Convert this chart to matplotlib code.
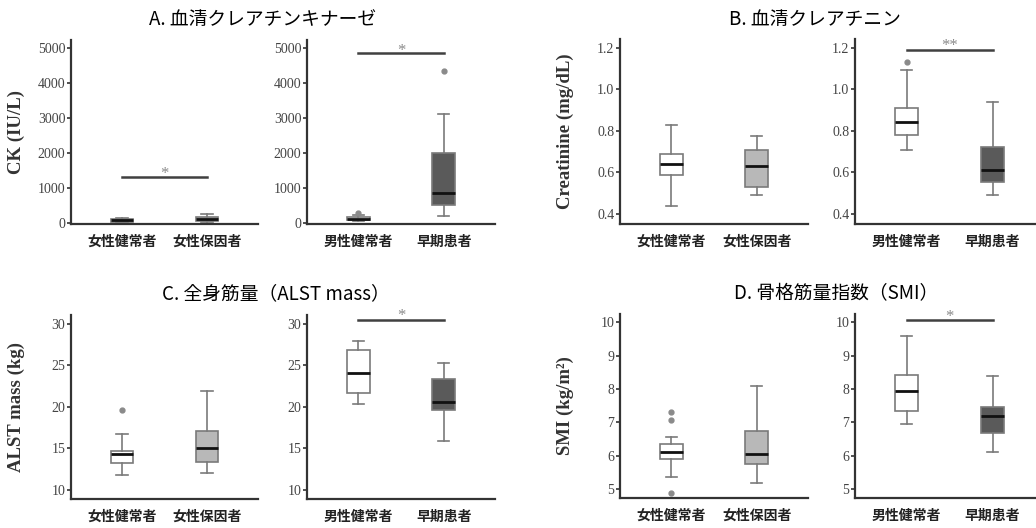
import matplotlib
matplotlib.use("Agg")
import matplotlib.pyplot as plt

plt.rcParams['font.family'] = ['Noto Sans CJK JP', 'DejaVu Sans']

# 群名
female_groups = ["女性健常者", "女性保因者"]
male_groups = ["男性健常者", "早期患者"]

# A. CK (IU/L)
ck_f_whislo = [20, 40]
ck_f_q1 = [40, 60]
ck_f_med = [75, 120]
ck_f_q3 = [110, 170]
ck_f_whishi = [140, 270]
ck_f_fliers = [[], []]
ck_m_whislo = [60, 200]
ck_m_q1 = [80, 514]
ck_m_med = [120, 849]
ck_m_q3 = [160, 1990]
ck_m_whishi = [220, 3105]
ck_m_fliers = [[290], [4350]]

# B. Creatinine (mg/dL)
cr_f_whislo = [0.439, 0.490]
cr_f_q1 = [0.589, 0.529]
cr_f_med = [0.639, 0.631]
cr_f_q3 = [0.689, 0.707]
cr_f_whishi = [0.829, 0.773]
cr_f_fliers = [[], []]
cr_m_whislo = [0.708, 0.490]
cr_m_q1 = [0.779, 0.554]
cr_m_med = [0.845, 0.611]
cr_m_q3 = [0.909, 0.724]
cr_m_whishi = [1.091, 0.941]
cr_m_fliers = [[1.131], []]

# C. ALST mass (kg)
al_f_whislo = [11.8, 12.1]
al_f_q1 = [13.24, 13.32]
al_f_med = [14.31, 15.04]
al_f_q3 = [14.71, 17.04]
al_f_whishi = [16.72, 21.9]
al_f_fliers = [[19.6], []]
al_m_whislo = [20.32, 15.84]
al_m_q1 = [21.67, 19.6]
al_m_med = [24.12, 20.52]
al_m_q3 = [26.88, 23.32]
al_m_whishi = [27.91, 25.32]
al_m_fliers = [[], []]

# D. SMI (kg/m2)
smi_f_whislo = [5.35, 5.18]
smi_f_q1 = [5.89, 5.75]
smi_f_med = [6.12, 6.05]
smi_f_q3 = [6.34, 6.74]
smi_f_whishi = [6.57, 8.1]
smi_f_fliers = [[7.32, 7.07, 4.88], []]
smi_m_whislo = [6.94, 6.12]
smi_m_q1 = [7.34, 6.67]
smi_m_med = [7.93, 7.18]
smi_m_q3 = [8.43, 7.47]
smi_m_whishi = [9.6, 8.4]
smi_m_fliers = [[], []]

W, H = 1036, 528
fig = plt.figure(figsize=(W / 100, H / 100), dpi=100)
fig.patch.set_facecolor('white')


def make_stats(whislo, q1, med, q3, whishi, fliers):
    return [dict(whislo=whislo[i], q1=q1[i], med=med[i], q3=q3[i],
                 whishi=whishi[i], fliers=fliers[i]) for i in range(len(med))]


def px_axes(left, right, top, bottom):
    return fig.add_axes([left / W, 1 - bottom / H, (right - left) / W, (bottom - top) / H])


def draw_panel(rect, stats, labels, fills, xlim, ylim, yticks, ytl, ylabel=None, sig=None):
    ax = px_axes(*rect)
    bp = ax.bxp(stats, positions=[1, 2], widths=0.27, patch_artist=True,
                capwidths=0.13,
                boxprops=dict(edgecolor='#7a7a7a', linewidth=1.2),
                whiskerprops=dict(color='#7a7a7a', linewidth=1.2),
                capprops=dict(color='#7a7a7a', linewidth=1.2),
                medianprops=dict(color='#111111', linewidth=2),
                flierprops=dict(marker='o', markersize=3.5, markerfacecolor='#8a8a8a',
                                markeredgecolor='#8a8a8a'))
    for patch, c in zip(bp['boxes'], fills):
        patch.set_facecolor(c)
    ax.set_xlim(*xlim)
    ax.set_ylim(*ylim)
    ax.set_yticks(yticks)
    ax.set_yticklabels(ytl, family='Liberation Serif', fontsize=10, color='#444444')
    ax.set_xticks([1, 2])
    ax.set_xticklabels(labels, fontsize=10, fontweight='bold', color='#222222')
    ax.tick_params(axis='x', length=0, pad=8)
    ax.tick_params(axis='y', length=3, width=1.2, color='#333333', pad=1)
    for s in ['top', 'right']:
        ax.spines[s].set_visible(False)
    for s in ['left', 'bottom']:
        ax.spines[s].set_linewidth(1.6)
        ax.spines[s].set_color('#333333')
    if ylabel:
        ax.set_ylabel(ylabel, family='Liberation Serif', fontweight='bold',
                      fontsize=13.5, color='#333333')
        ax.yaxis.set_label_coords(-46 / (rect[1] - rect[0]), 0.5)
    if sig:
        ybar, ystar, txt = sig
        ax.plot([1, 2], [ybar, ybar], color='#404040', linewidth=1.8, clip_on=False)
        ax.text(1.5, ystar, txt, ha='center', va='center', fontsize=12,
                family='Liberation Serif', color='#8a8a8a', clip_on=False)
    return ax


fills = ['white', '#b8b8b8']
fills_m = ['white', '#5a5a5a']

# A
ck_ticks = [0, 1000, 2000, 3000, 4000, 5000]
ck_tl = [str(t) for t in ck_ticks]
draw_panel((71, 258, 40, 224), make_stats(ck_f_whislo, ck_f_q1, ck_f_med, ck_f_q3, ck_f_whishi, ck_f_fliers),
           female_groups, fills, (0.4, 2.6), (-29, 5229), ck_ticks, ck_tl, 'CK (IU/L)', (1323, 1390, '*'))
draw_panel((307, 495, 40, 224), make_stats(ck_m_whislo, ck_m_q1, ck_m_med, ck_m_q3, ck_m_whishi, ck_m_fliers),
           male_groups, fills_m, (0.4, 2.6), (-29, 5229), ck_ticks, ck_tl, None, (4849, 4910, '*'))

# B
cr_ticks = [0.4, 0.6, 0.8, 1.0, 1.2]
cr_tl = ['%.1f' % t for t in cr_ticks]
draw_panel((620, 808, 39, 224), make_stats(cr_f_whislo, cr_f_q1, cr_f_med, cr_f_q3, cr_f_whishi, cr_f_fliers),
           female_groups, fills, (0.4, 2.6), (0.352, 1.242), cr_ticks, cr_tl, 'Creatinine (mg/dL)')
draw_panel((855, 1036, 39, 224), make_stats(cr_m_whislo, cr_m_q1, cr_m_med, cr_m_q3, cr_m_whishi, cr_m_fliers),
           male_groups, fills_m, (0.4, 2.505), (0.352, 1.242), cr_ticks, cr_tl, None, (1.187, 1.206, '**'))

# C
al_ticks = [10, 15, 20, 25, 30]
al_tl = [str(t) for t in al_ticks]
draw_panel((71, 258, 315, 499), make_stats(al_f_whislo, al_f_q1, al_f_med, al_f_q3, al_f_whishi, al_f_fliers),
           female_groups, fills, (0.4, 2.6), (8.92, 31.03), al_ticks, al_tl, 'ALST mass (kg)')
draw_panel((307, 495, 315, 499), make_stats(al_m_whislo, al_m_q1, al_m_med, al_m_q3, al_m_whishi, al_m_fliers),
           male_groups, fills_m, (0.4, 2.6), (8.92, 31.03), al_ticks, al_tl, None, (30.44, 30.85, '*'))

# D
smi_ticks = [5, 6, 7, 8, 9, 10]
smi_tl = [str(t) for t in smi_ticks]
draw_panel((620, 808, 314, 498), make_stats(smi_f_whislo, smi_f_q1, smi_f_med, smi_f_q3, smi_f_whishi, smi_f_fliers),
           female_groups, fills, (0.4, 2.6), (4.73, 10.25), smi_ticks, smi_tl, 'SMI (kg/m²)')
draw_panel((855, 1036, 314, 498), make_stats(smi_m_whislo, smi_m_q1, smi_m_med, smi_m_q3, smi_m_whishi, smi_m_fliers),
           male_groups, fills_m, (0.4, 2.505), (4.73, 10.25), smi_ticks, smi_tl, None, (10.07, 10.15, '*'))

# 見出し
fig.text(263 / W, 1 - 20 / H, 'A. 血清クレアチンキナーゼ', ha='center', va='center', fontsize=13.5)
fig.text(815 / W, 1 - 20 / H, 'B. 血清クレアチニン', ha='center', va='center', fontsize=13.5)
fig.text(276 / W, 1 - 294 / H, 'C. 全身筋量（ALST mass）', ha='center', va='center', fontsize=13.5)
fig.text(836 / W, 1 - 294 / H, 'D. 骨格筋量指数（SMI）', ha='center', va='center', fontsize=13.5)

fig.savefig('out.png', dpi=100, facecolor='white')
